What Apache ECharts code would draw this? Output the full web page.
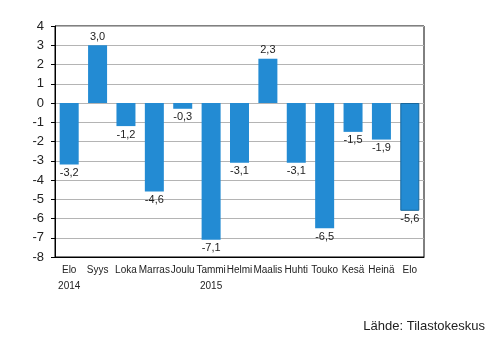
<!DOCTYPE html>
<html><head><meta charset="utf-8">
<script src="https://cdn.jsdelivr.net/npm/echarts@6/dist/echarts.min.js"></script>
<style>html,body{margin:0;padding:0;background:#fff}#c{width:494px;height:339px}</style>
</head><body><div id="c"></div>
<script>
var categories = ["Elo","Syys","Loka","Marras","Joulu","Tammi","Helmi","Maalis","Huhti","Touko","Kesä","Heinä","Elo"];
var years = ["2014","","","","","2015","","","","","","",""];
var values = [-3.2,3.0,-1.2,-4.6,-0.3,-7.1,-3.1,2.3,-3.1,-6.5,-1.5,-1.9,-5.6];
var yTicks = [-8,-7,-6,-5,-4,-3,-2,-1,0,1,2,3,4];

var chart = echarts.init(document.getElementById('c'));
var data = values.map(function(v,i){
  var d = {value:v, label:{position: v>=0?'top':'bottom'}};
  if(i===values.length-1){ d.itemStyle={borderColor:'#17679d',borderWidth:1}; }
  return d;
});
chart.setOption({
  animation:false,
  grid:{left:55,right:70,top:26,bottom:82,show:true,borderColor:'#000',borderWidth:1},
  xAxis:{type:'category',data:categories.map(function(c,i){return c+'\n'+years[i];}),
    axisLine:{show:true,onZero:false,lineStyle:{color:'#000'}},axisTick:{show:false},
    axisLabel:{interval:0,color:'#222',fontFamily:'Liberation Sans, Arial',fontSize:10,lineHeight:16,margin:5}},
  yAxis:{type:'value',min:yTicks[0],max:yTicks[yTicks.length-1],interval:1,
    axisLine:{show:true,lineStyle:{color:'#000'}},axisTick:{show:true,length:4,lineStyle:{color:'#000'}},
    splitLine:{lineStyle:{color:'#b4b4b4'}},
    axisLabel:{color:'#222',fontFamily:'Liberation Sans, Arial',fontSize:13,margin:11}},
  series:[{type:'bar',data:data,barWidth:19,itemStyle:{color:'#238bd3'},
    label:{show:true,color:'#222',fontFamily:'Liberation Sans, Arial',fontSize:11,distance:3,
      formatter:function(p){return p.value.toFixed(1).replace('.',',');}}}],
  graphic:[{type:'text',right:9,top:320,style:{text:'Lähde: Tilastokeskus',font:'13px "Liberation Sans", Arial',fill:'#222'}}]
});
</script></body></html>
